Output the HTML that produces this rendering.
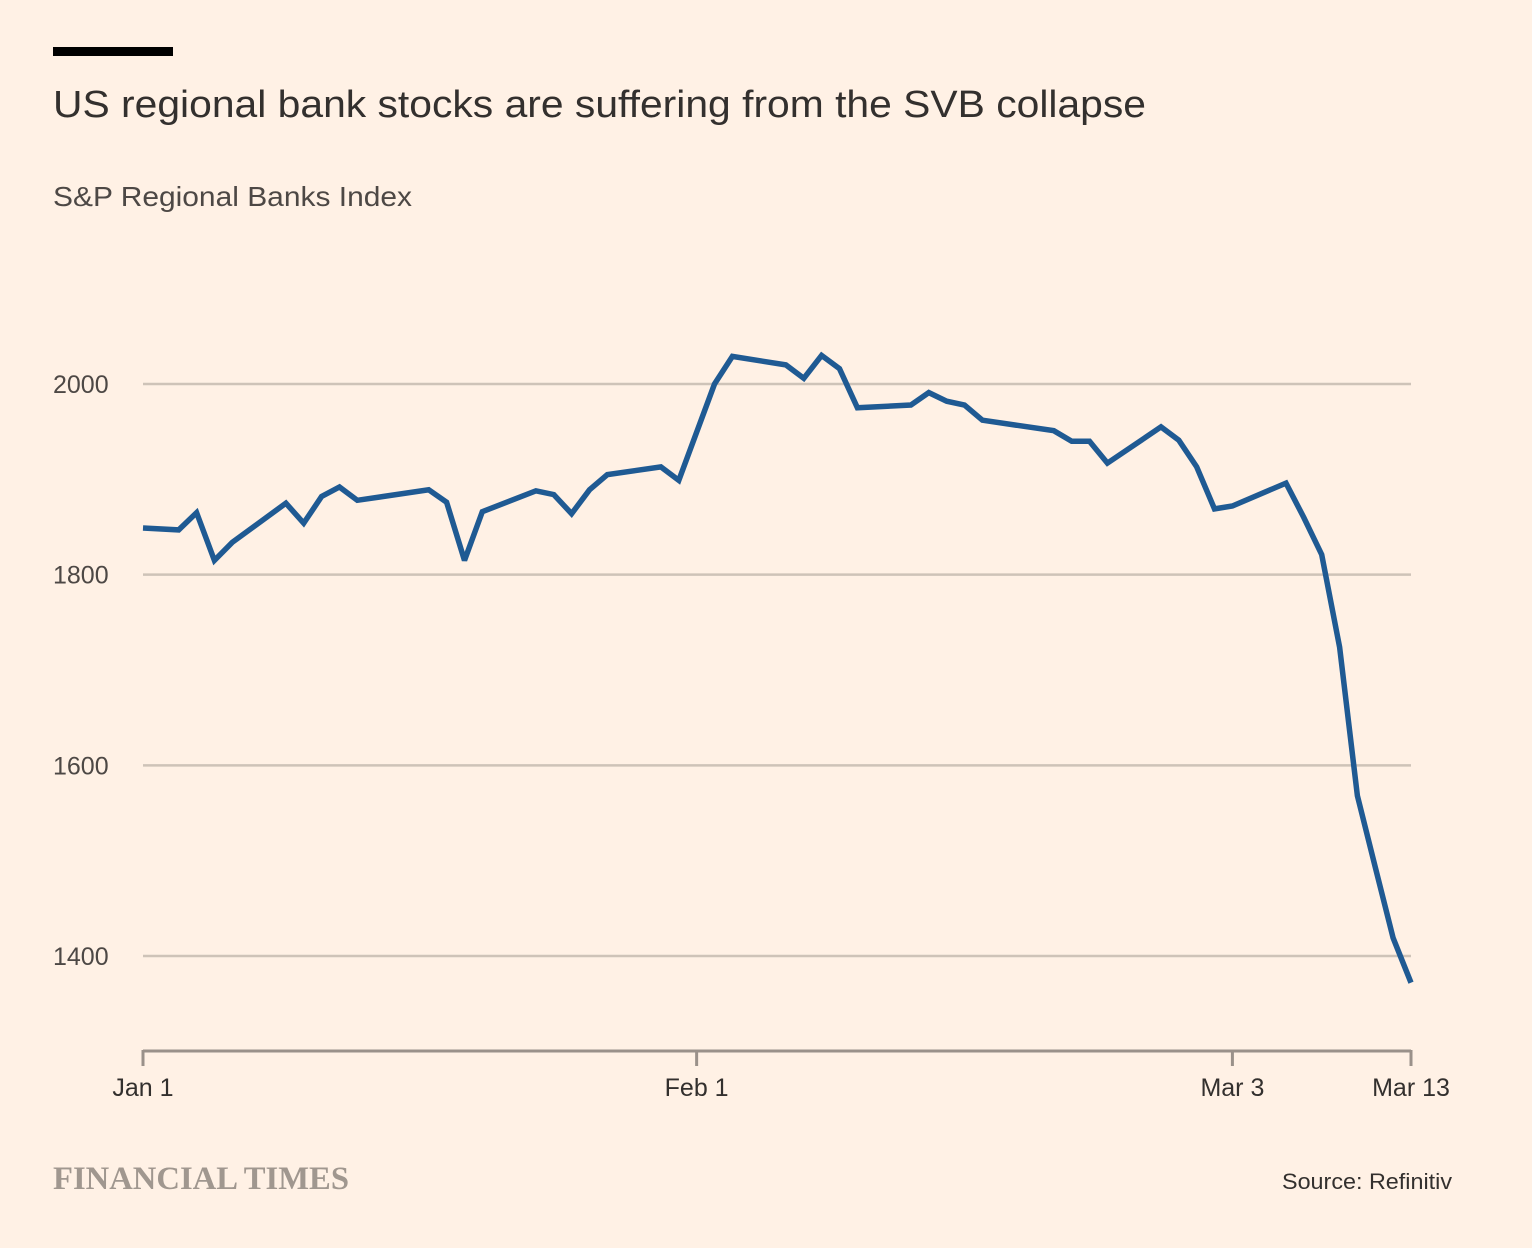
<!DOCTYPE html>
<html><head><meta charset="utf-8"><style>
html,body{margin:0;padding:0;background:#fff1e5;}
svg{display:block;font-family:"Liberation Sans",sans-serif;}
</style></head><body>
<svg id="chart" width="1532" height="1248" viewBox="0 0 1532 1248" xmlns="http://www.w3.org/2000/svg">
<rect x="0" y="0" width="1532" height="1248" fill="#fff1e5"/>
<rect x="53" y="47" width="120" height="9" fill="#000"/>
<text x="53" y="117" font-size="38" fill="#33302e" textLength="1093" lengthAdjust="spacingAndGlyphs">US regional bank stocks are suffering from the SVB collapse</text>
<text x="53" y="206" font-size="28" fill="#4d4845" textLength="359" lengthAdjust="spacingAndGlyphs">S&amp;P Regional Banks Index</text>
<g id="grid"></g>
<g id="yticks"></g>
<g id="xaxis"></g>
<g id="series"></g>
<text x="53" y="1189" font-family="Liberation Serif,serif" font-weight="bold" font-size="33" fill="#a0978f" textLength="296" lengthAdjust="spacingAndGlyphs">FINANCIAL TIMES</text>
<text x="1282" y="1189" font-size="22" fill="#33302e" textLength="170" lengthAdjust="spacingAndGlyphs">Source: Refinitiv</text>
</svg>
<script>
const days=[0,2,3,4,5,8,9,10,11,12,16,17,18,19,22,23,24,25,26,29,30,32,33,36,37,38,39,40,43,44,45,46,47,51,52,53,54,57,58,59,60,61,64,65,66,67,68,69,70,71];
const values=[1849,1847,1865,1815,1834,1875,1854,1882,1892,1878,1889,1876,1815,1866,1888,1884,1864,1889,1905,1913,1899,2000,2029,2020,2006,2030,2016,1975,1978,1991,1982,1978,1962,1951,1940,1940,1917,1955,1941,1913,1869,1872,1896,1860,1821,1724,1568,1493,1419,1372];
const yTicks=[1400,1600,1800,2000];
const xTickDays=[0,31,61,71];
const xTickLabels=["Jan 1","Feb 1","Mar 3","Mar 13"];
const NS="http://www.w3.org/2000/svg";
function xs(d){return 143+d*(1411-143)/71;}
function ys(v){return 384+(2000-v)*(956-384)/600;}
function mk(tag,attrs,parent){const e=document.createElementNS(NS,tag);for(const k in attrs)e.setAttribute(k,attrs[k]);parent.appendChild(e);return e;}
const grid=document.getElementById('grid'),yt=document.getElementById('yticks'),xa=document.getElementById('xaxis'),se=document.getElementById('series');
yTicks.forEach(v=>{
  const l=mk('line',{x1:143,x2:1411,y1:ys(v),y2:ys(v),stroke:'#cec3b8','stroke-width':2.5},grid);
  
  
  const t=mk('text',{x:53,y:ys(v)+9,'font-size':25,fill:'#4d4845'},yt);
  t.textContent=String(v);
  
  
});
const ax=mk('line',{x1:143,x2:1411,y1:1051,y2:1051,stroke:'#9a918a','stroke-width':3},xa);


xTickDays.forEach((d,i)=>{
  const tk=mk('line',{x1:xs(d),x2:xs(d),y1:1050,y2:1066,stroke:'#9a918a','stroke-width':3},xa);
  
  
  const t=mk('text',{x:xs(d),y:1096,'font-size':25,fill:'#33302e','text-anchor':'middle'},xa);
  t.textContent=xTickLabels[i];
  
  
});
const pts=days.map((d,i)=>xs(d).toFixed(1)+','+ys(values[i]).toFixed(1)).join(' ');
const pl=mk('polyline',{points:pts,fill:'none',stroke:'#1f5a93','stroke-width':5.5,'stroke-linejoin':'miter','stroke-miterlimit':3},se);


</script>
</body></html>
